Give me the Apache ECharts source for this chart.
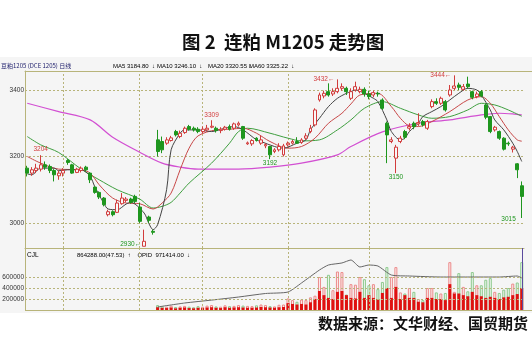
<!DOCTYPE html>
<html>
<head>
<meta charset="utf-8">
<script src="https://cdn.jsdelivr.net/npm/echarts@6/dist/echarts.min.js"></script>
<style>
html,body{margin:0;padding:0;background:#fff;}
#main{width:532px;height:338px;}
</style>
</head>
<body>
<div id="main"></div>
<script>
// 日K数据 [开, 收, 低, 高]
var kline = [
  [3165,3150,3140,3172],[3150,3160,3142,3168],[3158,3165,3150,3178],[3162,3175,3155,3204],
  [3175,3168,3160,3185],[3170,3158,3150,3176],[3158,3145,3125,3162],[3142,3150,3130,3158],
  [3150,3158,3140,3165],[3188,3182,3175,3192],[3175,3150,3148,3178],[3152,3162,3150,3166],
  [3158,3165,3152,3170],[3168,3160,3155,3172],[3150,3130,3120,3152],[3108,3092,3088,3110],
  [3092,3078,3072,3095],[3075,3055,3050,3078],[3025,3034,3020,3040],[3034,3025,3020,3038],
  [3032,3060,3030,3070],[3058,3075,3055,3090],[3068,3072,3062,3078],[3072,3062,3058,3076],
  [3080,3065,3060,3085],[3048,3005,3000,3060],[2930,2945,2930,2980],[3018,3008,3000,3022],
  [2975,2972,2965,2980],[3250,3215,3200,3280],[3245,3220,3210,3260],[3240,3250,3235,3258],
  [3248,3256,3245,3262],[3275,3265,3260,3280],[3260,3270,3255,3278],[3272,3285,3268,3290],
  [3290,3282,3278,3295],[3285,3280,3275,3290],[3282,3275,3270,3288],[3275,3282,3270,3290],
  [3280,3285,3275,3295],[3288,3291,3285,3309],[3285,3278,3272,3290],[3278,3282,3270,3288],
  [3282,3288,3278,3292],[3290,3282,3278,3296],[3285,3298,3280,3302],[3295,3300,3290,3305],
  [3290,3255,3250,3292],[3238,3241,3235,3245],[3238,3248,3232,3252],[3255,3248,3245,3258],
  [3240,3250,3235,3262],[3232,3236,3225,3240],[3230,3205,3192,3232],[3215,3220,3210,3225],
  [3220,3230,3215,3240],[3205,3232,3200,3238],[3235,3240,3230,3245],[3240,3245,3236,3250],
  [3245,3240,3238,3258],[3242,3250,3238,3255],[3255,3262,3250,3270],[3275,3285,3270,3295],
  [3295,3340,3290,3345],[3370,3385,3365,3392],[3382,3390,3375,3398],[3395,3385,3380,3420],
  [3388,3395,3382,3405],[3395,3405,3390,3432],[3405,3410,3398,3420],[3405,3395,3385,3410],
  [3375,3395,3370,3405],[3400,3410,3395,3425],[3395,3402,3390,3410],[3402,3388,3380,3408],
  [3388,3380,3372,3398],[3385,3392,3378,3398],[3390,3388,3380,3395],[3370,3345,3340,3375],
  [3300,3265,3180,3305],[3245,3250,3240,3258],[3195,3228,3150,3235],[3245,3255,3240,3262],
  [3275,3258,3252,3280],[3285,3290,3278,3300],[3300,3290,3282,3305],[3298,3302,3292,3330],
  [3305,3295,3290,3310],[3285,3305,3280,3310],[3350,3365,3345,3372],[3365,3360,3355,3375],
  [3360,3375,3355,3380],[3365,3340,3335,3370],[3385,3400,3380,3415],[3405,3412,3400,3444],
  [3415,3408,3400,3422],[3402,3410,3398,3418],[3418,3410,3404,3440],[3395,3378,3372,3398],
  [3380,3388,3375,3395],[3395,3382,3378,3400],[3355,3318,3312,3358],[3320,3275,3270,3322],
  [3280,3288,3275,3292],[3275,3255,3250,3278],[3255,3222,3218,3258],[3240,3238,3232,3245],
  [3222,3228,3212,3232],[3178,3160,3135,3180],[3112,3080,3015,3125]
];

// 均线 [序号, 数值]
var ma5 = [[0,3148],[1,3145],[3,3165],[6,3165],[7,3157],[9,3160],[12,3160],[14,3140],[15,3110],[17,3060],[18,3042],[20,3040],[22,3057],[23,3062],[26,3030],[27,3000],[28,2980],[29,2995],[31,3100],[32,3220],[34,3270],[35,3280],[38,3280],[41,3275],[44,3285],[46,3290],[48,3280],[51,3250],[52,3245],[55,3230],[57,3225],[60,3240],[62,3250],[63,3280],[65,3315],[67,3350],[69,3375],[71,3390],[72,3395],[73,3400],[75,3390],[77,3375],[78,3365],[80,3310],[81,3275],[83,3250],[84,3255],[85,3275],[87,3300],[88,3320],[90,3335],[92,3350],[94,3370],[96,3390],[98,3405],[100,3400],[101,3385],[103,3340],[104,3310],[106,3280],[108,3240],[109,3215],[110,3185]];
var ma10 = [[0,3200],[3,3180],[7,3162],[12,3160],[14,3150],[16,3115],[19,3075],[22,3060],[25,3058],[28,3042],[30,3060],[32,3090],[34,3160],[36,3225],[38,3262],[42,3280],[45,3282],[48,3285],[51,3270],[54,3245],[58,3225],[61,3230],[64,3255],[67,3300],[70,3330],[72,3358],[74,3385],[78,3390],[81,3350],[83,3315],[85,3292],[87,3290],[90,3305],[94,3335],[98,3370],[101,3380],[103,3360],[105,3320],[107,3280],[109,3250],[110,3246]];
var ma20 = [[0,3260],[3,3235],[7,3212],[12,3162],[16,3130],[20,3100],[25,3072],[28,3045],[30,3050],[32,3062],[34,3090],[36,3120],[41,3180],[45,3240],[47,3275],[49,3285],[54,3270],[58,3255],[61,3247],[65,3250],[69,3280],[72,3310],[75,3345],[79,3365],[83,3345],[87,3325],[90,3315],[94,3320],[98,3340],[101,3360],[104,3355],[107,3340],[110,3321]];
var ma60 = [[0,3360],[7,3335],[14,3310],[19,3258],[25,3213],[30,3180],[34,3168],[38,3162],[47,3162],[54,3168],[61,3180],[69,3205],[72,3230],[79,3274],[87,3300],[94,3310],[101,3325],[105,3330],[108,3328],[110,3325]];

// 成交量（从第29根开始有数据）
var volStart = 29;
var vol = [90000,70000,60000,80000,55000,65000,75000,60000,50000,70000,60000,80000,90000,65000,60000,85000,70000,75000,90000,80000,75000,70000,85000,100000,90000,70000,65000,95000,100000,
  210000,180000,150000,190000,180000,230000,260000,600000,420000,640000,360000,700000,690000,280000,470000,460000,600000,560000,450000,470000,380000,510000,780000,600000,780000,320000,300000,400000,330000,200000,180000,400000,400000,320000,300000,310000,870000,330000,670000,420000,340000,690000,450000,450000,550000,580000,330000,310000,370000,400000,480000,500000,870000];
var volIn = [50000,40000,35000,45000,30000,40000,45000,35000,30000,40000,35000,45000,50000,40000,35000,50000,40000,45000,50000,45000,40000,40000,45000,55000,50000,45000,40000,50000,55000,
  125000,110000,100000,110000,100000,140000,200000,345000,270000,220000,200000,330000,345000,270000,220000,210000,330000,220000,270000,220000,200000,310000,400000,220000,420000,200000,270000,220000,220000,150000,140000,220000,220000,200000,200000,180000,470000,300000,300000,270000,250000,330000,270000,250000,220000,240000,220000,200000,230000,240000,270000,290000,400000];
var opid = [[29,55000],[35,127000],[41,180000],[47,236000],[53,300000],[58,327000],[61,491000],[65,727000],[67,818000],[70,855000],[72,909000],[74,782000],[76,818000],[78,800000],[81,636000],[85,618000],[92,600000],[98,600000],[105,600000],[109,618000],[110,582000]];

var priceTicks = [3000, 3200, 3400];
var volTicks = [200000, 400000, 600000];
var monthLines = [8, 25, 39, 58, 76];

var days = kline.map(function (d, i) { return String(i + 1); });

var RED = '#d23c3c', GREEN = '#1e961e', GRID = '#b8b47a';
var smallFont = 'Liberation Sans, Arial, sans-serif';

var volData = [], volInData = [];
for (var i = 0; i < kline.length; i++) {
  var k = i - volStart;
  if (k < 0) { volData.push(null); volInData.push(null); continue; }
  var up = kline[i][1] >= kline[i][0];
  volData.push({ value: vol[k], itemStyle: { color: up ? '#fbeeee' : '#eef7ee', borderColor: up ? '#ec8a8a' : '#8cc98c' } });
  volInData.push(volIn[k]);
}

// 网格虚线：横向取刻度值，纵向取月份分界
function gridLines(vals) {
  var out = vals.map(function (v) { return { yAxis: v }; });
  monthLines.forEach(function (m) { out.push({ xAxis: m, label: { show: false } }); });
  return out;
}

var rich = {
  k: { color: '#222', fontSize: 6, fontFamily: smallFont },
  r: { color: RED, fontSize: 6, fontFamily: smallFont },
  g: { color: GREEN, fontSize: 6, fontFamily: smallFont },
  m: { color: '#cc33cc', fontSize: 6, fontFamily: smallFont },
  b: { color: '#1c1c6a', fontSize: 6.5, fontFamily: smallFont }
};
function head(x, y, text) {
  return { type: 'text', x: x, y: y, style: { text: text, rich: rich, textVerticalAlign: 'middle', verticalAlign: 'middle' } };
}

var chart = echarts.init(document.getElementById('main'));

var option = {
  animation: false,
  backgroundColor: '#fff',
  title: {
    text: '图 2  连粕 M1205 走势图',
    left: 177, top: 28,
    textStyle: { fontFamily: 'Noto Sans CJK SC', fontSize: 18.5, fontWeight: 'bold', color: '#111' }
  },
  graphic: [
    { type: 'rect', z: -10, shape: { x: 0, y: 57, width: 532, height: 256 }, style: { fill: '#f5f5f5' } },
    { type: 'line', shape: { x1: 25, y1: 71.5, x2: 532, y2: 71.5 }, style: { stroke: GRID, lineWidth: 1 } },
    { type: 'line', shape: { x1: 25, y1: 310.5, x2: 532, y2: 310.5 }, style: { stroke: GRID, lineWidth: 1 } },
    { type: 'text', x: 1, y: 66, style: { text: '豆粕1205 (DCE 1205) 日线', font: '6px Noto Sans CJK SC', fill: '#1c1c6a', textVerticalAlign: 'middle', verticalAlign: 'middle' } },
    head(113, 66, '{k|MA5 3184.80} {g|↓}'),
    head(157, 66, '{r|MA10 3246.10} {g|↓}'),
    head(208, 66, '{g|MA20 3320.55 ↓}'),
    head(249, 66, '{m|MA60 3325.22} {g|↓}'),
    head(27, 255, '{b|CJL}'),
    head(77, 255, '{k|864288.00(47.53)} {r|↑}  {k|OPID  971414.00} {g|↓}'),
    { type: 'text', x: 528, y: 323, style: { text: '数据来源：文华财经、国贸期货', font: 'bold 15px Noto Sans CJK SC', fill: '#111', textAlign: 'right', align: 'right', textVerticalAlign: 'middle', verticalAlign: 'middle' } }
  ],
  grid: [
    { left: 25, right: 8, top: 71, height: 177 },
    { left: 25, right: 8, top: 248, height: 62 }
  ],
  xAxis: [
    {
      type: 'category', data: days, gridIndex: 0, position: 'top',
      axisLine: { show: true, onZero: false, lineStyle: { color: GRID } },
      axisTick: { show: false }, axisLabel: { show: false }, splitLine: { show: false }
    },
    {
      type: 'category', data: days, gridIndex: 1, position: 'top',
      axisLine: { show: true, onZero: false, lineStyle: { color: GRID } },
      axisTick: { show: false }, axisLabel: { show: false }, splitLine: { show: false }
    }
  ],
  yAxis: [
    {
      type: 'value', gridIndex: 0, min: 2924.8, max: 3457.1, scale: true,
      axisLine: { show: true, lineStyle: { color: GRID } },
      axisTick: { show: false }, axisLabel: { show: false }, splitLine: { show: false }
    },
    {
      type: 'value', gridIndex: 1, min: 0, max: 1127273,
      axisLine: { show: true, lineStyle: { color: GRID } },
      axisTick: { show: false }, axisLabel: { show: false }, splitLine: { show: false }
    }
  ],
  series: [
    {
      name: 'K线', type: 'candlestick', data: kline, barWidth: 3.4,
      xAxisIndex: 0, yAxisIndex: 0, z: 3,
      itemStyle: { color: '#f8f8f8', color0: GREEN, borderColor: RED, borderColor0: GREEN, borderWidth: 1 },
      markLine: {
        silent: true, symbol: 'none', z: 1,
        lineStyle: { color: GRID, type: [2, 2], width: 1 },
        label: { position: 'start', distance: 1, formatter: '{c}', fontSize: 6.5, fontFamily: smallFont, color: '#333' },
        data: gridLines(priceTicks)
      },
      markPoint: {
        symbol: 'rect', symbolSize: 0,
        label: { fontSize: 6.5, fontFamily: smallFont },
        data: [
          { coord: [3, 3204], label: { formatter: '3204', position: 'top', distance: 2, color: RED } },
          { coord: [26, 2936], label: { formatter: '2930←', position: 'left', distance: 3, color: GREEN } },
          { coord: [41, 3309], label: { formatter: '3309', position: 'top', distance: 2, color: RED } },
          { coord: [54, 3192], label: { formatter: '3192', position: 'bottom', distance: 1, color: GREEN } },
          { coord: [69, 3432], label: { formatter: '3432←', position: 'left', distance: 3, color: RED } },
          { coord: [82, 3150], label: { formatter: '3150', position: 'bottom', distance: 1, color: GREEN } },
          { coord: [95, 3444], label: { formatter: '3444←', position: 'left', distance: 3, color: RED } },
          { coord: [110, 3010], label: { formatter: '3015', position: 'left', distance: 6, color: GREEN } }
        ]
      }
    },
    { name: 'MA60', type: 'line', data: ma60, smooth: 0.3, showSymbol: false, xAxisIndex: 0, yAxisIndex: 0, z: 2, lineStyle: { color: '#d24fd2', width: 1.2 } },
    { name: 'MA20', type: 'line', data: ma20, smooth: 0.3, showSymbol: false, xAxisIndex: 0, yAxisIndex: 0, z: 2, lineStyle: { color: '#3f9f3f', width: 1 } },
    { name: 'MA10', type: 'line', data: ma10, smooth: 0.3, showSymbol: false, xAxisIndex: 0, yAxisIndex: 0, z: 2, lineStyle: { color: '#c84848', width: 1 } },
    { name: 'MA5', type: 'line', data: ma5, smooth: 0.3, showSymbol: false, xAxisIndex: 0, yAxisIndex: 0, z: 2, lineStyle: { color: '#444', width: 1 } },
    {
      name: 'CJL', type: 'bar', data: volData, barWidth: 3, barGap: '-100%',
      xAxisIndex: 1, yAxisIndex: 1,
      itemStyle: { borderWidth: 1 },
      markLine: {
        silent: true, symbol: 'none',
        lineStyle: { color: GRID, type: [2, 2], width: 1 },
        label: { position: 'start', distance: 1, formatter: '{c}', fontSize: 6.5, fontFamily: smallFont, color: '#333' },
        data: gridLines(volTicks)
      }
    },
    {
      name: '成交', type: 'bar', data: volInData, barWidth: 3, barGap: '-100%',
      xAxisIndex: 1, yAxisIndex: 1,
      itemStyle: { color: '#e01010' },
      markLine: {
        silent: true, symbol: 'none', label: { show: false },
        lineStyle: { color: '#5b4a9e', type: 'solid', width: 1 },
        data: [{ xAxis: kline.length - 1 }]
      }
    },
    { name: 'OPID', type: 'line', data: opid, smooth: 0.2, showSymbol: false, xAxisIndex: 1, yAxisIndex: 1, z: 4, lineStyle: { color: '#666', width: 1 } }
  ]
};

chart.setOption(option);
</script>
</body>
</html>
